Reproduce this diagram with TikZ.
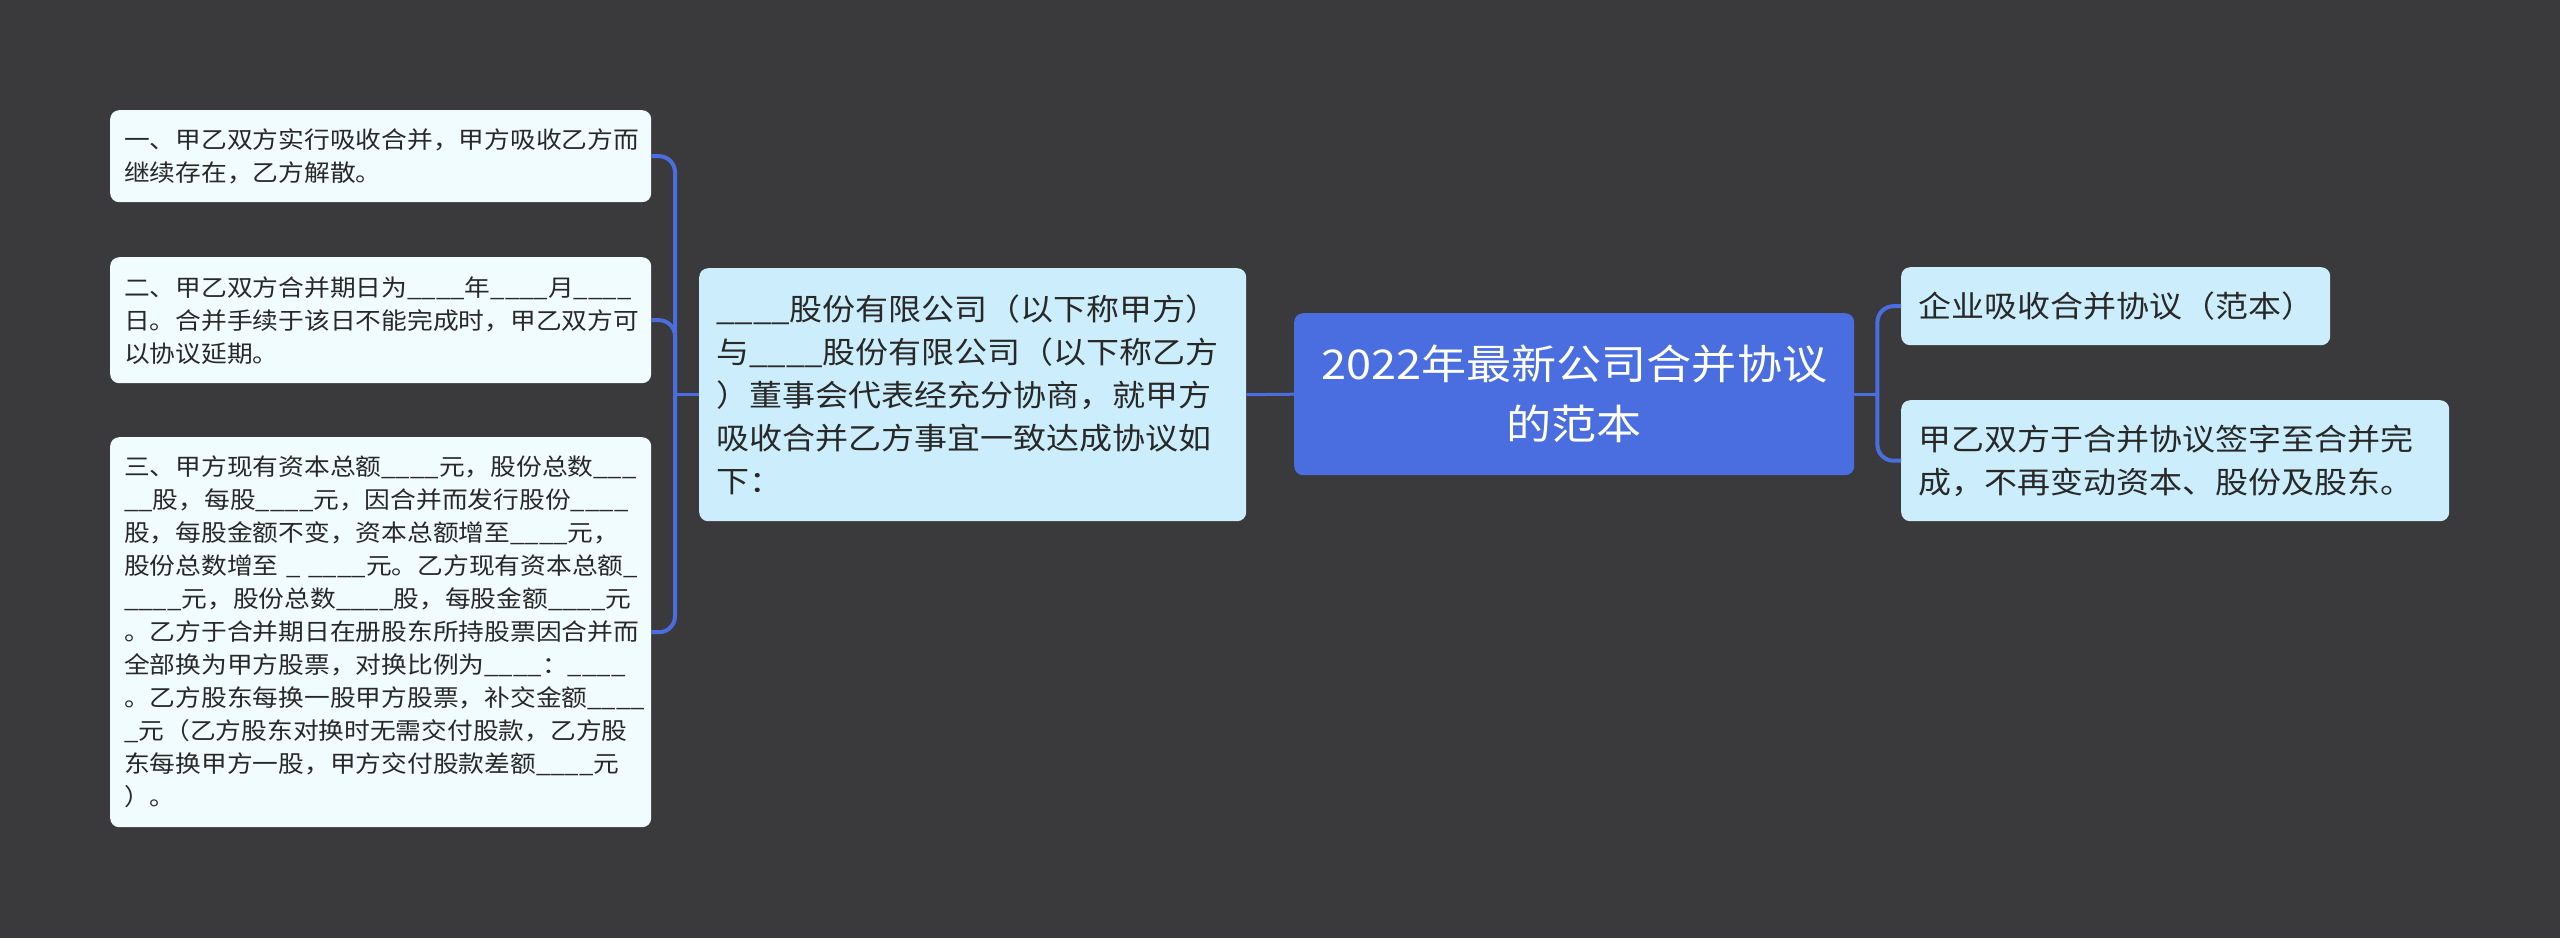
\documentclass[tikz,border=0pt]{standalone}
\usepackage{fontspec}
\setmainfont{Noto Sans CJK SC}[FakeStretch=1.1]
\definecolor{bg}{RGB}{58,57,59}
\definecolor{rootfill}{RGB}{74,110,224}
\definecolor{midfill}{RGB}{204,238,252}
\definecolor{leaffill}{RGB}{240,252,255}
\definecolor{conncol}{RGB}{74,110,224}
\definecolor{txt}{RGB}{40,40,40}
\tikzset{
  box/.style={anchor=north west, rounded corners=9pt, inner ysep=0pt, text=txt},
  leftbox/.style={box, fill=leaffill, inner xsep=14pt, text width=513pt, align=left,
    font=\fontsize{23.4pt}{33pt}\selectfont},
  midbox/.style={box, fill=midfill, inner xsep=17pt, align=left,
    font=\fontsize{30pt}{43pt}\selectfont},
  rootbox/.style={box, fill=rootfill, inner xsep=17pt, align=center, text=white,
    font=\fontsize{41pt}{60pt}\selectfont},
  branch/.style={draw=conncol, line width=4pt, rounded corners=16pt},
  trunk/.style={draw=conncol, line width=3pt},
}
\begin{document}
\begin{tikzpicture}[x=1pt,y=-1pt]
\useasboundingbox (0,0) rectangle (2560,938);
\fill[bg] (0,0) rectangle (2560,938);

% root
\node[rootbox, text width=526pt, minimum height=162pt] (root) at (1294,313)
  {2022年最新公司合并协议\\的范本};

% middle left
\node[midbox, text width=513pt, minimum height=253pt] (mid) at (699,268)
  {\_\_\_\_股份有限公司（以下称甲方）\\
   与\_\_\_\_股份有限公司（以下称乙方\\
   ）董事会代表经充分协商，就甲方\\
   吸收合并乙方事宜一致达成协议如\\
   下：};

% left leaves
\node[leftbox, minimum height=92pt] (b1) at (110,110)
  {一、甲乙双方实行吸收合并，甲方吸收乙方而\\继续存在，乙方解散。};
\node[leftbox, minimum height=126pt] (b2) at (110,257)
  {二、甲乙双方合并期日为\_\_\_\_年\_\_\_\_月\_\_\_\_\\
   日。合并手续于该日不能完成时，甲乙双方可\\
   以协议延期。};
\node[leftbox, minimum height=390pt] (b3) at (110,437)
  {三、甲方现有资本总额\_\_\_\_元，股份总数\_\_\_\\
   \_\_股，每股\_\_\_\_元，因合并而发行股份\_\_\_\_\\
   股，每股金额不变，资本总额增至\_\_\_\_元，\\
   股份总数增至 \_ \_\_\_\_元。乙方现有资本总额\_\\
   \_\_\_\_元，股份总数\_\_\_\_股，每股金额\_\_\_\_元\\
   。乙方于合并期日在册股东所持股票因合并而\\
   全部换为甲方股票，对换比例为\_\_\_\_：\_\_\_\_\\
   。乙方股东每换一股甲方股票，补交金额\_\_\_\_\\
   \_元（乙方股东对换时无需交付股款，乙方股\\
   东每换甲方一股，甲方交付股款差额\_\_\_\_元\\
   ）。};

% right leaves
\node[midbox, text width=395pt, minimum height=78pt] (r1) at (1901,267)
  {企业吸收合并协议（范本）};
\node[midbox, text width=514pt, minimum height=121pt] (r2) at (1901,400)
  {甲乙双方于合并协议签字至合并完\\成，不再变动资本、股份及股东。};

% spine coordinates
\path (mid.west) ++(-24,0) coordinate (spL);
\path (root.east) ++(23,0) coordinate (spR);

% connectors
\draw[trunk] (root.west) -- (mid.east);
\draw[trunk] (mid.west) -- (spL);
\draw[branch] (b1.east) -| (spL);
\draw[branch] (b2.east) -| (spL);
\draw[branch] (b3.east) -| (spL);
\draw[trunk] (root.east) -- (spR);
\draw[branch] (r1.west) -| (spR);
\draw[branch] (r2.west) -| (spR);
\end{tikzpicture}
\end{document}
